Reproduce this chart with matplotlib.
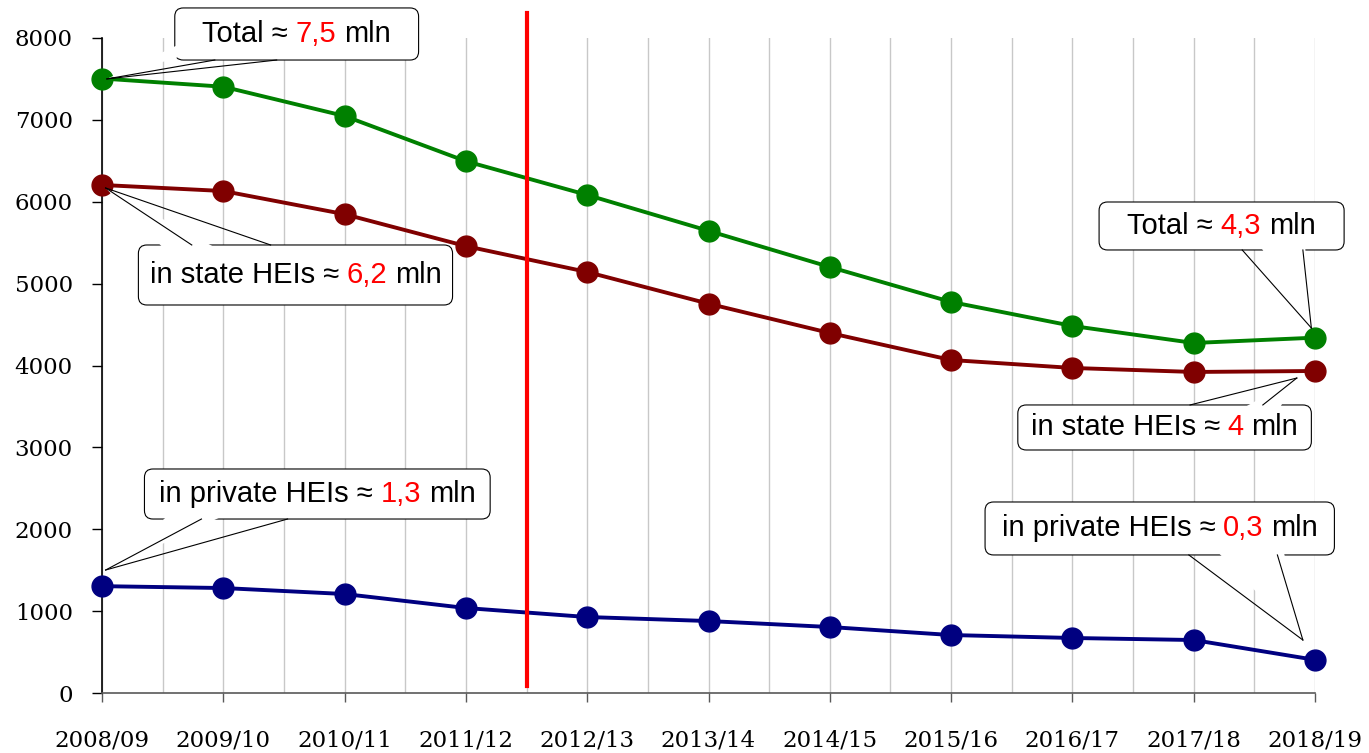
import matplotlib
matplotlib.use('Agg')
import matplotlib.pyplot as plt
from matplotlib.patches import FancyBboxPatch, Polygon
from matplotlib.offsetbox import TextArea, HPacker, AnnotationBbox

#----------------------------- DATA -----------------------------#
years = ['2008/09', '2009/10', '2010/11', '2011/12', '2012/13', '2013/14',
         '2014/15', '2015/16', '2016/17', '2017/18', '2018/19']
total = [7505, 7405, 7047, 6495, 6083, 5645, 5203, 4776, 4483, 4275, 4340]
state = [6205, 6131, 5848, 5458, 5142, 4755, 4397, 4067, 3970, 3921, 3933]
private = [1305, 1282, 1209, 1038, 928, 879, 806, 708, 672, 647, 405]
reform_x = 3.5

# callouts: text, red value, box (x0, x1, y0, y1), wedge base (xa, xb, y), tip (x, y)
callouts = [
    ('Total \u2248', '7,5', (0.60, 2.61, 7731, 8367), (0.93, 1.44, 7731), (0.04, 7500)),
    ('in state HEIs \u2248', '6,2', (0.30, 2.89, 4739, 5472), (0.74, 1.39, 5472), (0.03, 6168)),
    ('in private HEIs \u2248', '1,3', (0.35, 3.20, 2125, 2736), (0.82, 1.53, 2125), (0.03, 1502)),
    ('Total \u2248', '4,3', (8.22, 10.24, 5411, 5997), (9.40, 9.90, 5411), (9.97, 4458)),
    ('in state HEIs \u2248', '4', (7.55, 9.97, 2968, 3518), (8.97, 9.57, 3518), (9.85, 3847)),
    ('in private HEIs \u2248', '0,3', (7.28, 10.16, 1686, 2333), (8.96, 9.69, 1686), (9.90, 647)),
]

#----------------------------- PLOT -----------------------------#
fig = plt.figure(figsize=(13.69, 7.53), dpi=100)
ax = fig.add_axes([102 / 1369, 60 / 753, 1213 / 1369, 655 / 753])

x = list(range(len(years)))
ax.set_xlim(0, 10)
ax.set_ylim(0, 8000)

ax.plot(x, total, color='#008000', lw=2.8, marker='o', ms=15, zorder=4, clip_on=False)
ax.plot(x, state, color='#800000', lw=2.8, marker='o', ms=15, zorder=4, clip_on=False)
ax.plot(x, private, color='#000080', lw=2.8, marker='o', ms=15, zorder=4, clip_on=False)

# reform marker line
ax.plot([reform_x, reform_x], [85, 8300], color='#ff0000', lw=3, zorder=5, clip_on=False)

# axes styling
ax.set_xticks(x)
ax.set_xticklabels(years, fontfamily='DejaVu Serif', fontsize=16.5)
ax.set_xticks([i + 0.5 for i in x[:-1]], minor=True)
ax.set_yticks(range(0, 8001, 1000))
ax.set_yticklabels([str(v) for v in range(0, 8001, 1000)], fontfamily='DejaVu Serif', fontsize=16.5)
ax.tick_params(axis='x', which='major', length=6.5, width=1, pad=20, color='#595959')
ax.tick_params(axis='x', which='minor', length=0)
ax.tick_params(axis='y', length=7, width=1, pad=14, color='black')
ax.grid(True, axis='x', which='both', color='#c8c8c8', lw=1)
ax.set_axisbelow(True)
for s in ['top', 'right']:
    ax.spines[s].set_visible(False)
ax.spines['left'].set_linewidth(1.2)
ax.spines['left'].set_color('black')
ax.spines['bottom'].set_linewidth(1.2)
ax.spines['bottom'].set_color('#595959')

#----------------------------- CALLOUTS -----------------------------#
p0 = ax.transData.transform((0, 0))
p1 = ax.transData.transform((1, 1))
aspect = (p1[0] - p0[0]) / (p1[1] - p0[1])
font = ['Liberation Sans', 'DejaVu Sans']

for txt, val, box, base, tip in callouts:
    x0, x1, y0, y1 = box
    patch = FancyBboxPatch((x0, y0), x1 - x0, y1 - y0,
                           boxstyle='round,pad=0,rounding_size=0.07',
                           mutation_aspect=aspect, fc='white', ec='black',
                           lw=0.8, zorder=6, clip_on=False)
    ax.add_patch(patch)
    xa, xb, by = base
    inside = -400 if by == y1 else 400
    wedge = Polygon([(xa, by + inside), (xb, by + inside), tip], closed=True,
                    fc='white', ec='none', zorder=7, clip_on=False)
    ax.add_patch(wedge)
    ax.plot([xa, tip[0]], [by, tip[1]], color='black', lw=0.8, zorder=8, clip_on=False)
    ax.plot([xb, tip[0]], [by, tip[1]], color='black', lw=0.8, zorder=8, clip_on=False)

    parts = [TextArea(txt, textprops=dict(color='black', fontsize=21, family=font)),
             TextArea(val, textprops=dict(color='#ff0000', fontsize=21, family=font)),
             TextArea('mln', textprops=dict(color='black', fontsize=21, family=font))]
    pack = HPacker(children=parts, align='baseline', pad=0, sep=5.5)
    ab = AnnotationBbox(pack, ((x0 + x1) / 2, (y0 + y1) / 2), frameon=False,
                        box_alignment=(0.5, 0.5), annotation_clip=False, zorder=9)
    ax.add_artist(ab)

fig.savefig('out.png', dpi=100)
